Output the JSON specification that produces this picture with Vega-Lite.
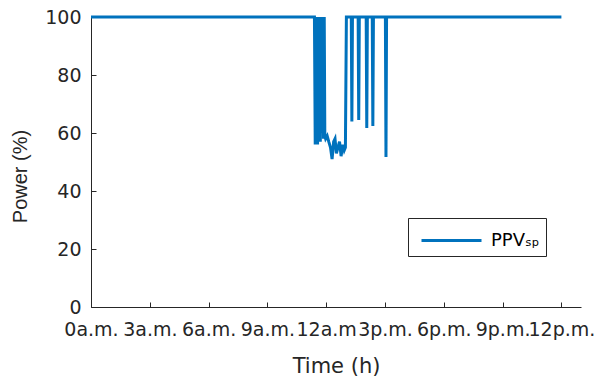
{
  "$schema": "https://vega.github.io/schema/vega-lite/v6.json",
  "width": 490,
  "height": 290,
  "autosize": "none",
  "padding": {"left": 91, "top": 17, "right": 14, "bottom": 76},
  "background": "white",
  "config": {
    "view": {"stroke": null},
    "font": "DejaVu Sans",
    "axis": {"grid": false, "domainColor": "#262626", "tickColor": "#262626", "labelColor": "#262626", "titleColor": "#262626", "labelFont": "DejaVu Sans", "titleFont": "DejaVu Sans", "labelFontSize": 19, "titleFontSize": 21, "titleFontWeight": "normal", "tickSize": -5, "domainWidth": 1, "tickWidth": 1}
  },
  "data": {"values": [
    {"t": 0, "p": 100, "s": "PPVₛₚ"},
    {"t": 11.40, "p": 100, "s": "PPVₛₚ"},
    {"t": 11.44, "p": 56, "s": "PPVₛₚ"},
    {"t": 11.47, "p": 100, "s": "PPVₛₚ"},
    {"t": 11.50, "p": 57, "s": "PPVₛₚ"},
    {"t": 11.53, "p": 100, "s": "PPVₛₚ"},
    {"t": 11.56, "p": 56, "s": "PPVₛₚ"},
    {"t": 11.60, "p": 100, "s": "PPVₛₚ"},
    {"t": 11.63, "p": 58, "s": "PPVₛₚ"},
    {"t": 11.67, "p": 100, "s": "PPVₛₚ"},
    {"t": 11.70, "p": 57, "s": "PPVₛₚ"},
    {"t": 11.74, "p": 100, "s": "PPVₛₚ"},
    {"t": 11.78, "p": 60, "s": "PPVₛₚ"},
    {"t": 11.82, "p": 100, "s": "PPVₛₚ"},
    {"t": 11.86, "p": 58, "s": "PPVₛₚ"},
    {"t": 11.90, "p": 100, "s": "PPVₛₚ"},
    {"t": 11.93, "p": 59, "s": "PPVₛₚ"},
    {"t": 11.97, "p": 58, "s": "PPVₛₚ"},
    {"t": 12.05, "p": 59, "s": "PPVₛₚ"},
    {"t": 12.13, "p": 57, "s": "PPVₛₚ"},
    {"t": 12.22, "p": 55, "s": "PPVₛₚ"},
    {"t": 12.30, "p": 51, "s": "PPVₛₚ"},
    {"t": 12.38, "p": 57, "s": "PPVₛₚ"},
    {"t": 12.45, "p": 58, "s": "PPVₛₚ"},
    {"t": 12.52, "p": 53, "s": "PPVₛₚ"},
    {"t": 12.60, "p": 55, "s": "PPVₛₚ"},
    {"t": 12.68, "p": 57, "s": "PPVₛₚ"},
    {"t": 12.76, "p": 52, "s": "PPVₛₚ"},
    {"t": 12.84, "p": 56, "s": "PPVₛₚ"},
    {"t": 12.92, "p": 54, "s": "PPVₛₚ"},
    {"t": 12.98, "p": 55, "s": "PPVₛₚ"},
    {"t": 13.03, "p": 100, "s": "PPVₛₚ"},
    {"t": 13.28, "p": 100, "s": "PPVₛₚ"},
    {"t": 13.31, "p": 64, "s": "PPVₛₚ"},
    {"t": 13.34, "p": 100, "s": "PPVₛₚ"},
    {"t": 13.63, "p": 100, "s": "PPVₛₚ"},
    {"t": 13.66, "p": 64.5, "s": "PPVₛₚ"},
    {"t": 13.69, "p": 100, "s": "PPVₛₚ"},
    {"t": 14.04, "p": 100, "s": "PPVₛₚ"},
    {"t": 14.07, "p": 61.7, "s": "PPVₛₚ"},
    {"t": 14.10, "p": 100, "s": "PPVₛₚ"},
    {"t": 14.35, "p": 100, "s": "PPVₛₚ"},
    {"t": 14.38, "p": 62.4, "s": "PPVₛₚ"},
    {"t": 14.41, "p": 100, "s": "PPVₛₚ"},
    {"t": 15.02, "p": 100, "s": "PPVₛₚ"},
    {"t": 15.05, "p": 51.7, "s": "PPVₛₚ"},
    {"t": 15.08, "p": 100, "s": "PPVₛₚ"},
    {"t": 24, "p": 100, "s": "PPVₛₚ"}
  ]},
  "mark": {"type": "line", "strokeWidth": 3, "interpolate": "linear", "clip": false},
  "encoding": {
    "x": {"field": "t", "type": "quantitative", "scale": {"domain": [0, 25], "nice": false, "zero": false},
      "axis": {"title": "Time (h)", "values": [0, 3, 6, 9, 12, 15, 18, 21, 24], "labelExpr": "['0a.m.','3a.m.','6a.m.','9a.m.','12a.m','3p.m.','6p.m.','9p.m.','12p.m.'][datum.value/3]", "labelPadding": 18, "titlePadding": 16, "labelOverlap": false, "labelFlush": false}},
    "y": {"field": "p", "type": "quantitative", "scale": {"domain": [0, 100], "nice": false},
      "axis": {"title": "Power (%)", "titleFont": "Liberation Sans", "titleFontSize": 20, "titleY": 159, "values": [0, 20, 40, 60, 80, 100], "labelPadding": 15, "titlePadding": 14}},
    "order": {"field": "t", "type": "quantitative"},
    "color": {"field": "s", "type": "nominal", "scale": {"range": ["#0072BD"]},
      "legend": {"title": null, "orient": "none", "legendX": 317, "legendY": 201, "symbolType": "M-2,0L2,0", "symbolSize": 900, "symbolStrokeWidth": 3, "symbolFillColor": "transparent", "symbolOffset": 21, "labelFontSize": 18, "labelFont": "DejaVu Sans", "labelColor": "#000000", "strokeColor": "#262626", "fillColor": "white", "padding": 6, "labelOffset": 23}}
  }
}
